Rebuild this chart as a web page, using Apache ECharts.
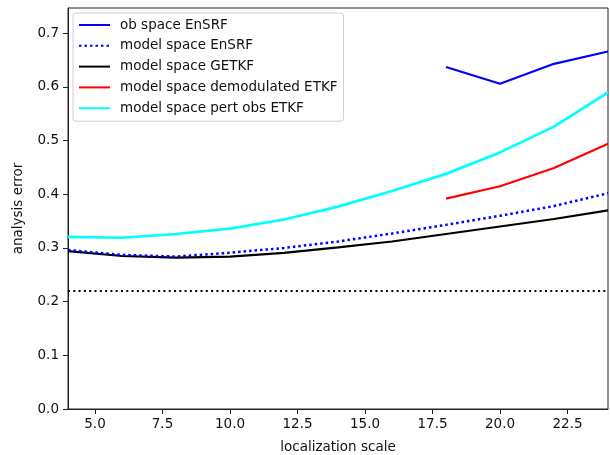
<!DOCTYPE html>
<html>
<head>
<meta charset="utf-8">
<script src="https://cdn.jsdelivr.net/npm/echarts@6/dist/echarts.min.js"></script>
<style>
  html, body { margin: 0; padding: 0; background: #fff; }
  #chart { width: 610px; height: 455px; }
</style>
</head>
<body>
<div id="chart"></div>
<script>
// Localization scales at which each filter was run
const locScales = [4, 6, 8, 10, 12, 14, 16, 18, 20, 22, 24];

// Analysis error per filter configuration (null = not run)
const obSpaceEnSRF         = [null, null, null, null, null, null, null, 0.637, 0.606, 0.643, 0.666];
const modelSpaceEnSRF      = [0.296, 0.287, 0.284, 0.291, 0.300, 0.312, 0.327, 0.343, 0.360, 0.378, 0.402];
const modelSpaceGETKF      = [0.294, 0.285, 0.282, 0.284, 0.291, 0.301, 0.312, 0.326, 0.340, 0.354, 0.370];
const modelSpaceDemodETKF  = [null, null, null, null, null, null, null, 0.392, 0.415, 0.449, 0.494];
const modelSpacePertObs    = [0.3205, 0.319, 0.326, 0.336, 0.353, 0.377, 0.406, 0.438, 0.478, 0.526, 0.590];

// Reference level drawn as a horizontal dotted line
const referenceError = 0.22;

// Axis tick positions
const xTicks = [5, 7.5, 10, 12.5, 15, 17.5, 20, 22.5];
const yTicks = [0, 0.1, 0.2, 0.3, 0.4, 0.5, 0.6, 0.7];

const FONT = '"DejaVu Sans", sans-serif';

function pairs(vals) {
  const out = [];
  vals.forEach((v, i) => { if (v !== null) out.push([locScales[i], v]); });
  return out;
}

function lineSeries(name, vals, color, type, width, z) {
  return {
    name: name,
    type: 'line',
    data: pairs(vals),
    symbol: 'none',
    smooth: false,
    z: z,
    lineStyle: { color: color, width: width, type: type, cap: 'butt' },
    itemStyle: { color: color },
    emphasis: { disabled: true },
    animation: false
  };
}

const chart = echarts.init(document.getElementById('chart'), null, { renderer: 'canvas' });

chart.setOption({
  animation: false,
  backgroundColor: '#fff',
  grid: {
    left: 68, right: 2, top: 8, bottom: 46,
    show: true, borderColor: '#222', borderWidth: 1,
    containLabel: false, outerBoundsMode: 'none'
  },
  legend: {
    left: 73, top: 13,
    orient: 'vertical',
    padding: [5, 6, 6, 5],
    itemWidth: 31, itemHeight: 14, itemGap: 6.8,
    backgroundColor: '#fff',
    borderColor: '#d0d0d0', borderWidth: 1, borderRadius: 3,
    itemStyle: { opacity: 0 },
    textStyle: { fontFamily: FONT, fontSize: 13.5, lineHeight: 14, color: '#111', padding: [0, 0, 0, 5] },
    data: ['ob space EnSRF', 'model space EnSRF', 'model space GETKF',
           'model space demodulated ETKF', 'model space pert obs ETKF']
  },
  xAxis: {
    type: 'value',
    min: 4, max: 24,
    name: 'localization scale',
    nameLocation: 'middle',
    nameGap: 31,
    nameTextStyle: { fontFamily: FONT, fontSize: 13.5, color: '#111' },
    axisLine: { show: true, onZero: false, lineStyle: { color: '#222', width: 1 } },
    axisTick: { show: true, inside: false, length: 5, customValues: xTicks, lineStyle: { color: '#222' } },
    axisLabel: { customValues: xTicks, margin: 8, fontFamily: FONT, fontSize: 13.5, color: '#111',
                 formatter: v => v.toFixed(1) },
    splitLine: { show: false }
  },
  yAxis: {
    type: 'value',
    min: 0, max: 0.747,
    name: 'analysis error',
    nameLocation: 'middle',
    nameGap: 43,
    nameTextStyle: { fontFamily: FONT, fontSize: 13.5, color: '#111' },
    axisLine: { show: true, onZero: false, lineStyle: { color: '#222', width: 1 } },
    axisTick: { show: true, inside: false, length: 5, customValues: yTicks, lineStyle: { color: '#222' } },
    axisLabel: { customValues: yTicks, margin: 9, fontFamily: FONT, fontSize: 13.5, color: '#111',
                 formatter: v => v.toFixed(1) },
    splitLine: { show: false }
  },
  series: [
    lineSeries('ob space EnSRF', obSpaceEnSRF, '#0000ff', 'solid', 2.2, 5),
    lineSeries('model space EnSRF', modelSpaceEnSRF, '#0000ff', [2.5, 3], 2.5, 4),
    lineSeries('model space GETKF', modelSpaceGETKF, '#000000', 'solid', 2.2, 3),
    lineSeries('model space demodulated ETKF', modelSpaceDemodETKF, '#ff0000', 'solid', 2.2, 6),
    lineSeries('model space pert obs ETKF', modelSpacePertObs, '#00ffff', 'solid', 2.7, 7),
    {
      name: 'reference',
      type: 'line',
      data: [[4, referenceError], [24, referenceError]],
      symbol: 'none',
      z: 2,
      lineStyle: { color: '#000', width: 2, type: [2, 3.3], cap: 'butt' },
      emphasis: { disabled: true },
      animation: false
    }
  ]
});
</script>
</body>
</html>
